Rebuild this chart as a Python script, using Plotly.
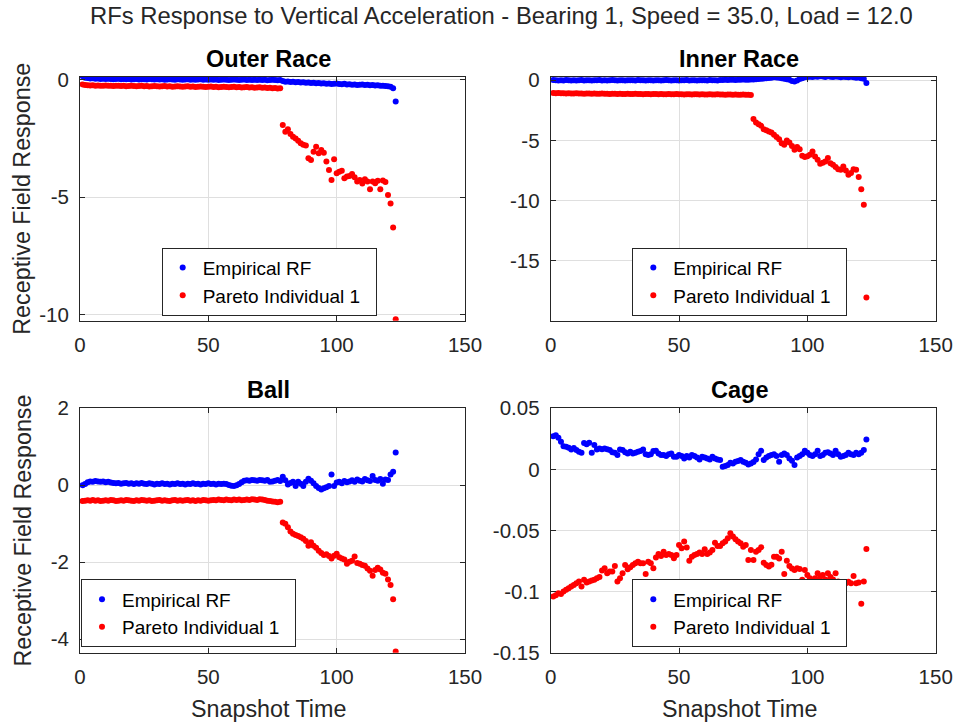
import plotly.graph_objects as go

# ---------------- data ----------------
snapshots = list(range(1, 124))

outer_emp = [
    0.15, 0.09, 0.07, 0.05, 0.06, 0.04, 0.05, 0.03, 0.04, 0.03,
    0.04, 0.03, 0.02, 0.03, 0.04, 0.02, 0.03, 0.02, 0.03, 0.01,
    0.02, 0.03, 0.01, 0.02, 0.02, 0.01, 0.03, 0.02, 0.01, 0.02,
    0.01, 0.02, 0.00, 0.01, 0.02, 0.01, 0.00, 0.02, 0.01, 0.00,
    0.01, 0.02, 0.00, 0.01, 0.00, 0.01, 0.02, 0.00, 0.01, 0.00,
    0.01, 0.00, 0.01, -0.01, 0.00, 0.01, 0.00, -0.01, 0.00, 0.01,
    0.00, -0.01, 0.00, 0.01, -0.01, 0.00, -0.01, 0.00, -0.01, 0.00,
    -0.01, 0.00, -0.02, -0.01, 0.00, -0.01, -0.02, -0.01,
    -0.05, -0.08, -0.07, -0.10, -0.09, -0.11, -0.10, -0.12, -0.11, -0.13,
    -0.12, -0.14, -0.13, -0.15, -0.14, -0.16, -0.15, -0.17, -0.16, -0.18,
    -0.17, -0.16, -0.18, -0.19, -0.17, -0.20, -0.19, -0.21, -0.20, -0.22,
    -0.21, -0.20, -0.22, -0.21, -0.23, -0.22, -0.24, -0.23, -0.25, -0.26,
    -0.27, -0.28, -0.30, -0.36, -0.93]

outer_pareto = [
    -0.20, -0.22, -0.23, -0.24, -0.23, -0.25, -0.24, -0.26, -0.25, -0.24,
    -0.26, -0.25, -0.27, -0.26, -0.25, -0.27, -0.26, -0.28, -0.27, -0.26,
    -0.27, -0.28, -0.27, -0.26, -0.28, -0.27, -0.29, -0.28, -0.27, -0.28,
    -0.29, -0.28, -0.27, -0.29, -0.28, -0.30, -0.29, -0.28, -0.29, -0.30,
    -0.29, -0.28, -0.30, -0.29, -0.31, -0.30, -0.29, -0.30, -0.31, -0.30,
    -0.29, -0.31, -0.30, -0.32, -0.31, -0.30, -0.31, -0.32, -0.31, -0.30,
    -0.32, -0.31, -0.33, -0.32, -0.31, -0.33, -0.32, -0.34, -0.33, -0.32,
    -0.34, -0.33, -0.35, -0.34, -0.36, -0.35, -0.37, -0.36,
    -1.92, -2.21, -2.11, -2.31, -2.42, -2.50, -2.59, -2.70, -2.77, -2.80,
    -3.34, -3.41, -3.06, -2.85, -3.13, -2.99, -3.10, -3.48, -3.84, -4.26,
    -3.38, -3.98, -3.91, -3.87, -4.19, -4.12, -4.09, -4.01, -4.15, -4.33,
    -4.26, -4.41, -4.23, -4.33, -4.66, -4.33, -4.40, -4.30, -4.66, -4.29,
    -4.35, -4.90, -5.26, -6.28, -10.19]

inner_emp = [
    0.02, 0.00, -0.02, 0.01, -0.01, 0.02, 0.00, -0.01, 0.01, -0.02,
    0.00, 0.02, -0.01, 0.01, 0.00, -0.02, 0.01, 0.00, 0.02, -0.01,
    0.01, -0.01, 0.00, 0.02, 0.01, -0.01, 0.00, 0.01, -0.02, 0.00,
    0.01, 0.00, -0.01, 0.02, 0.00, 0.01, -0.01, 0.00, 0.01, -0.02,
    0.00, 0.01, -0.01, 0.00, 0.02, 0.00, -0.01, 0.01, 0.00, -0.01,
    0.01, 0.00, 0.02, -0.01, 0.00, 0.01, -0.02, 0.00, 0.01, 0.00,
    -0.01, 0.02, 0.00, 0.01, -0.01, 0.03, 0.02, 0.04, 0.03, 0.05,
    0.04, 0.03, 0.05, 0.04, 0.06, 0.05, 0.04, 0.06,
    0.07, 0.08, 0.10, 0.12, 0.15, 0.17, 0.20, 0.22, 0.26, 0.24,
    0.22, 0.18, 0.12, 0.08, 0.05, -0.05, -0.10, -0.02, 0.10, 0.18,
    0.25, 0.28, 0.30, 0.27, 0.32, 0.29, 0.34, 0.31, 0.28, 0.33,
    0.30, 0.27, 0.32, 0.29, 0.26, 0.30, 0.28, 0.25, 0.29, 0.26,
    0.22, 0.24, 0.18, 0.12, -0.23]

inner_pareto = [
    -1.05, -1.07, -1.06, -1.08, -1.07, -1.09, -1.08, -1.10, -1.09, -1.08,
    -1.10, -1.09, -1.11, -1.10, -1.09, -1.11, -1.10, -1.12, -1.11, -1.10,
    -1.12, -1.11, -1.13, -1.12, -1.11, -1.13, -1.12, -1.14, -1.13, -1.12,
    -1.14, -1.13, -1.12, -1.14, -1.13, -1.15, -1.14, -1.13, -1.15, -1.14,
    -1.13, -1.15, -1.14, -1.16, -1.15, -1.14, -1.16, -1.15, -1.14, -1.16,
    -1.15, -1.17, -1.16, -1.15, -1.17, -1.16, -1.15, -1.17, -1.16, -1.18,
    -1.17, -1.16, -1.18, -1.17, -1.16, -1.18, -1.17, -1.19, -1.18, -1.17,
    -1.19, -1.18, -1.20, -1.19, -1.18, -1.20, -1.19, -1.21,
    -3.22, -3.50, -3.65, -3.78, -4.06, -4.15, -4.25, -4.33, -4.53, -4.70,
    -4.89, -5.22, -5.36, -5.00, -5.17, -5.45, -5.77, -5.55, -5.72, -6.27,
    -6.38, -6.30, -6.19, -5.91, -6.33, -6.60, -6.94, -6.85, -6.74, -6.46,
    -6.88, -7.02, -7.20, -7.38, -7.43, -7.16, -7.49, -7.85, -7.71, -7.38,
    -7.43, -8.04, -9.04, -10.34, -18.04]

ball_emp = [
    0.00, 0.03, 0.08, 0.10, 0.09, 0.11, 0.10, 0.09, 0.10, 0.08,
    0.09, 0.07, 0.06, 0.05, 0.06, 0.04, 0.05, 0.06, 0.04, 0.05,
    0.03, 0.05, 0.04, 0.06, 0.04, 0.03, 0.05, 0.04, 0.02, 0.04,
    0.03, 0.05, 0.03, 0.04, 0.02, 0.04, 0.03, 0.05, 0.03, 0.04,
    0.02, 0.04, 0.03, 0.05, 0.03, 0.04, 0.02, 0.04, 0.03, 0.05,
    0.03, 0.04, 0.02, 0.04, 0.03, 0.04, 0.03, 0.01, -0.01, -0.02,
    0.00, 0.03, 0.08, 0.12, 0.13, 0.12, 0.14, 0.13, 0.12, 0.14,
    0.13, 0.12, 0.14, 0.09, 0.10, 0.12, 0.14, 0.11,
    0.22, 0.13, 0.02, 0.06, 0.09, -0.02, 0.09, 0.04, -0.02, 0.09,
    0.17, 0.12, 0.05, -0.02, -0.07, -0.11, -0.08, -0.05, -0.02, 0.28,
    -0.02, 0.07, 0.09, 0.05, 0.11, 0.08, 0.10, 0.13, 0.09, 0.15,
    0.12, 0.10, 0.16, 0.13, 0.11, 0.24, 0.14, 0.12, 0.16, 0.04,
    0.15, 0.14, 0.28, 0.35, 0.85]

ball_pareto = [
    -0.41, -0.40, -0.39, -0.40, -0.38, -0.40, -0.39, -0.41, -0.40, -0.39,
    -0.40, -0.38, -0.39, -0.41, -0.40, -0.39, -0.40, -0.38, -0.39, -0.40,
    -0.41, -0.39, -0.40, -0.38, -0.39, -0.40, -0.39, -0.41, -0.40, -0.39,
    -0.38, -0.40, -0.39, -0.40, -0.41, -0.39, -0.38, -0.40, -0.39, -0.40,
    -0.39, -0.38, -0.40, -0.39, -0.41, -0.39, -0.40, -0.38, -0.39, -0.40,
    -0.39, -0.38, -0.39, -0.37, -0.38, -0.39, -0.37, -0.38, -0.39, -0.37,
    -0.38, -0.37, -0.39, -0.38, -0.37, -0.38, -0.36, -0.37, -0.38, -0.36,
    -0.37, -0.38, -0.40, -0.41, -0.42, -0.43, -0.44, -0.43,
    -0.97, -1.00, -1.09, -1.20, -1.26, -1.29, -1.32, -1.35, -1.39, -1.45,
    -1.57, -1.48, -1.57, -1.62, -1.70, -1.76, -1.81, -1.79, -1.84, -1.90,
    -1.83, -1.78, -1.87, -1.90, -1.93, -2.04, -1.99, -1.96, -1.85, -2.02,
    -2.04, -2.07, -2.09, -2.16, -2.22, -2.35, -2.20, -2.14, -2.19, -2.27,
    -2.30, -2.45, -2.59, -2.96, -4.32]

cage_emp = [
    0.0272, 0.0280, 0.0260, 0.0226, 0.0190, 0.0185, 0.0178, 0.0163, 0.0175, 0.0158,
    0.0144, 0.0136, 0.0217, 0.0206, 0.0218, 0.0136, 0.0199, 0.0163, 0.0171, 0.0165,
    0.0171, 0.0165, 0.0158, 0.0140, 0.0136, 0.0117, 0.0163, 0.0158, 0.0140, 0.0130,
    0.0144, 0.0130, 0.0136, 0.0144, 0.0150, 0.0163, 0.0125, 0.0117, 0.0125, 0.0150,
    0.0152, 0.0130, 0.0117, 0.0117, 0.0109, 0.0125, 0.0130, 0.0103, 0.0103, 0.0117,
    0.0109, 0.0090, 0.0109, 0.0098, 0.0117, 0.0109, 0.0098, 0.0082, 0.0103, 0.0098,
    0.0090, 0.0082, 0.0103, 0.0090, 0.0082, 0.0076, 0.0022, 0.0027, 0.0035, 0.0054,
    0.0049, 0.0062, 0.0068, 0.0076, 0.0062, 0.0054, 0.0040, 0.0049, 0.0060, 0.0082,
    0.0125, 0.0152, 0.0076, 0.0098, 0.0109, 0.0117, 0.0125, 0.0109, 0.0062, 0.0117,
    0.0130, 0.0117, 0.0090, 0.0070, 0.0035, 0.0098, 0.0109, 0.0125, 0.0152, 0.0136,
    0.0117, 0.0109, 0.0125, 0.0152, 0.0109, 0.0117, 0.0136, 0.0140, 0.0130, 0.0117,
    0.0152, 0.0125, 0.0103, 0.0109, 0.0117, 0.0136, 0.0125, 0.0117, 0.0136, 0.0125,
    0.0136, 0.0158, 0.0245]

cage_pareto = [
    -0.1041, -0.1030, -0.1013, -0.1019, -0.1000, -0.0985, -0.0972, -0.0959, -0.0945, -0.0932,
    -0.0918, -0.0959, -0.0904, -0.0926, -0.0918, -0.0910, -0.0904, -0.0891, -0.0880, -0.0828,
    -0.0809, -0.0850, -0.0836, -0.0836, -0.0790, -0.0918, -0.0891, -0.0850, -0.0782, -0.0817,
    -0.0800, -0.0782, -0.0768, -0.0755, -0.0768, -0.0768, -0.0855, -0.0755, -0.0768, -0.0809,
    -0.0720, -0.0692, -0.0708, -0.0673, -0.0700, -0.0692, -0.0700, -0.0727, -0.0700, -0.0618,
    -0.0646, -0.0591, -0.0640, -0.0747, -0.0714, -0.0700, -0.0692, -0.0681, -0.0692, -0.0654,
    -0.0692, -0.0681, -0.0660, -0.0600, -0.0627, -0.0627, -0.0605, -0.0591, -0.0564, -0.0523,
    -0.0550, -0.0572, -0.0591, -0.0605, -0.0632, -0.0618, -0.0741, -0.0659, -0.0741, -0.0673,
    -0.0659, -0.0637, -0.0763, -0.0782, -0.0795, -0.0780, -0.0714, -0.0714, -0.0730, -0.0673,
    -0.0855, -0.0747, -0.0790, -0.0810, -0.0823, -0.0809, -0.0815, -0.0904, -0.0823, -0.0864,
    -0.0891, -0.0918, -0.0891, -0.0850, -0.0880, -0.0864, -0.0900, -0.0850, -0.0880, -0.0900,
    -0.0850, -0.0918, -0.0940, -0.0959, -0.0932, -0.0920, -0.0932, -0.0872, -0.0932, -0.0926,
    -0.1100, -0.0918, -0.0651]

panel_titles = ["Outer Race", "Inner Race", "Ball", "Cage"]
series_names = ["Empirical RF", "Pareto Individual 1"]
x_ticks = [0, 50, 100, 150]
y_ticks = [[-10, -5, 0], [-20, -15, -10, -5, 0], [-4, -2, 0, 2],
           [-0.15, -0.1, -0.05, 0, 0.05]]
y_ticktext = [["-10", "-5", "0"], ["-20", "-15", "-10", "-5", "0"],
              ["-4", "-2", "0", "2"], ["-0.15", "-0.1", "-0.05", "0", "0.05"]]
main_title = "RFs Response to Vertical Acceleration - Bearing 1, Speed = 35.0, Load = 12.0"
x_label = "Snapshot Time"
y_label = "Receptive Field Response"

# ---------------- layout ----------------
W, H = 954, 726
FONT = "Liberation Sans, Arial, Helvetica, sans-serif"
INK = "#262626"
GRID = "#dfdfdf"

def px_x(p):
    return p / W

def px_y(p):
    return 1 - p / H

col_dom = [(80, 465), (550.7, 935.7)]
row_dom = [(76.7, 320.7), (408.3, 652.7)]
y_ranges = [[-10.25, 0.13], [-19.97, 0.3], [-4.35, 2.0], [-0.15, 0.05]]
legend_pos = [(161.7, 247.7), (632.3, 247.7), (81.0, 579.3), (632.3, 579.3)]

panels = [(outer_emp, outer_pareto), (inner_emp, inner_pareto),
          (ball_emp, ball_pareto), (cage_emp, cage_pareto)]

# legend labels get a little trailing padding like MATLAB's legend box
legend_labels = [series_names[0], series_names[1] + "\u00a0\u00a0"]

fig = go.Figure()
layout = dict(
    width=W, height=H, margin=dict(l=0, r=0, t=0, b=0, pad=0, autoexpand=False),
    paper_bgcolor="white", plot_bgcolor="white",
    font=dict(family=FONT, color=INK), showlegend=True,
)
annotations = []

for i, (emp, par) in enumerate(panels):
    r, c = divmod(i, 2)
    sfx = "" if i == 0 else str(i + 1)
    xa, ya = "x" + sfx, "y" + sfx
    lg = "legend" + sfx
    for vals, name, color in ((emp, legend_labels[0], "#0000ff"),
                              (par, legend_labels[1], "#ff0000")):
        fig.add_trace(go.Scatter(
            x=snapshots, y=vals, mode="markers", name=name,
            marker=dict(color=color, size=6, line=dict(width=0)),
            xaxis=xa, yaxis=ya, legend=lg, hoverinfo="skip"))
    x0, x1 = col_dom[c]
    y0, y1 = row_dom[r]
    common = dict(showgrid=True, gridcolor=GRID, gridwidth=1, showline=True,
                  linecolor=INK, linewidth=1, mirror="allticks", ticks="inside",
                  ticklen=5, tickcolor=INK, tickwidth=1, zeroline=False,
                  automargin=False,
                  tickfont=dict(family=FONT, size=20.5, color=INK))
    layout["xaxis" + sfx] = dict(common, domain=[px_x(x0), px_x(x1)], range=[0, 150],
                                 tickvals=x_ticks, ticktext=[str(t) for t in x_ticks],
                                 anchor=ya, ticklabelstandoff=6)
    layout["yaxis" + sfx] = dict(common, domain=[px_y(y1), px_y(y0)], range=y_ranges[i],
                                 tickvals=y_ticks[i], ticktext=y_ticktext[i],
                                 anchor=xa, ticklabelstandoff=6)
    lx, ly = legend_pos[i]
    layout[lg] = dict(x=px_x(lx), y=px_y(ly), xanchor="left", yanchor="top",
                      xref="paper", yref="paper",
                      bgcolor="white", bordercolor=INK, borderwidth=1,
                      font=dict(family=FONT, size=19, color="black"),
                      itemsizing="trace", tracegroupgap=0)
    # panel title
    annotations.append(dict(text="<b>" + panel_titles[i] + "</b>", showarrow=False,
                            x=px_x((x0 + x1) / 2 - 4), y=px_y(y0 - 18),
                            xref="paper", yref="paper", xanchor="center", yanchor="middle",
                            font=dict(family=FONT, size=23.5, color="black")))
    if r == 1:
        annotations.append(dict(text=x_label, showarrow=False,
                                x=px_x((x0 + x1) / 2 - 4), y=px_y(709),
                                xref="paper", yref="paper", xanchor="center", yanchor="middle",
                                font=dict(family=FONT, size=23.3, color=INK)))
    if c == 0:
        annotations.append(dict(text=y_label, showarrow=False, textangle=-90,
                                x=px_x(22), y=px_y((y0 + y1) / 2),
                                xref="paper", yref="paper", xanchor="center", yanchor="middle",
                                font=dict(family=FONT, size=23.3, color=INK)))

annotations.append(dict(text=main_title, showarrow=False,
                        x=px_x(501), y=px_y(15), xref="paper", yref="paper",
                        xanchor="center", yanchor="middle",
                        font=dict(family=FONT, size=23.8, color=INK)))
layout["annotations"] = annotations
fig.update_layout(**layout)

fig.write_html("out.html")
